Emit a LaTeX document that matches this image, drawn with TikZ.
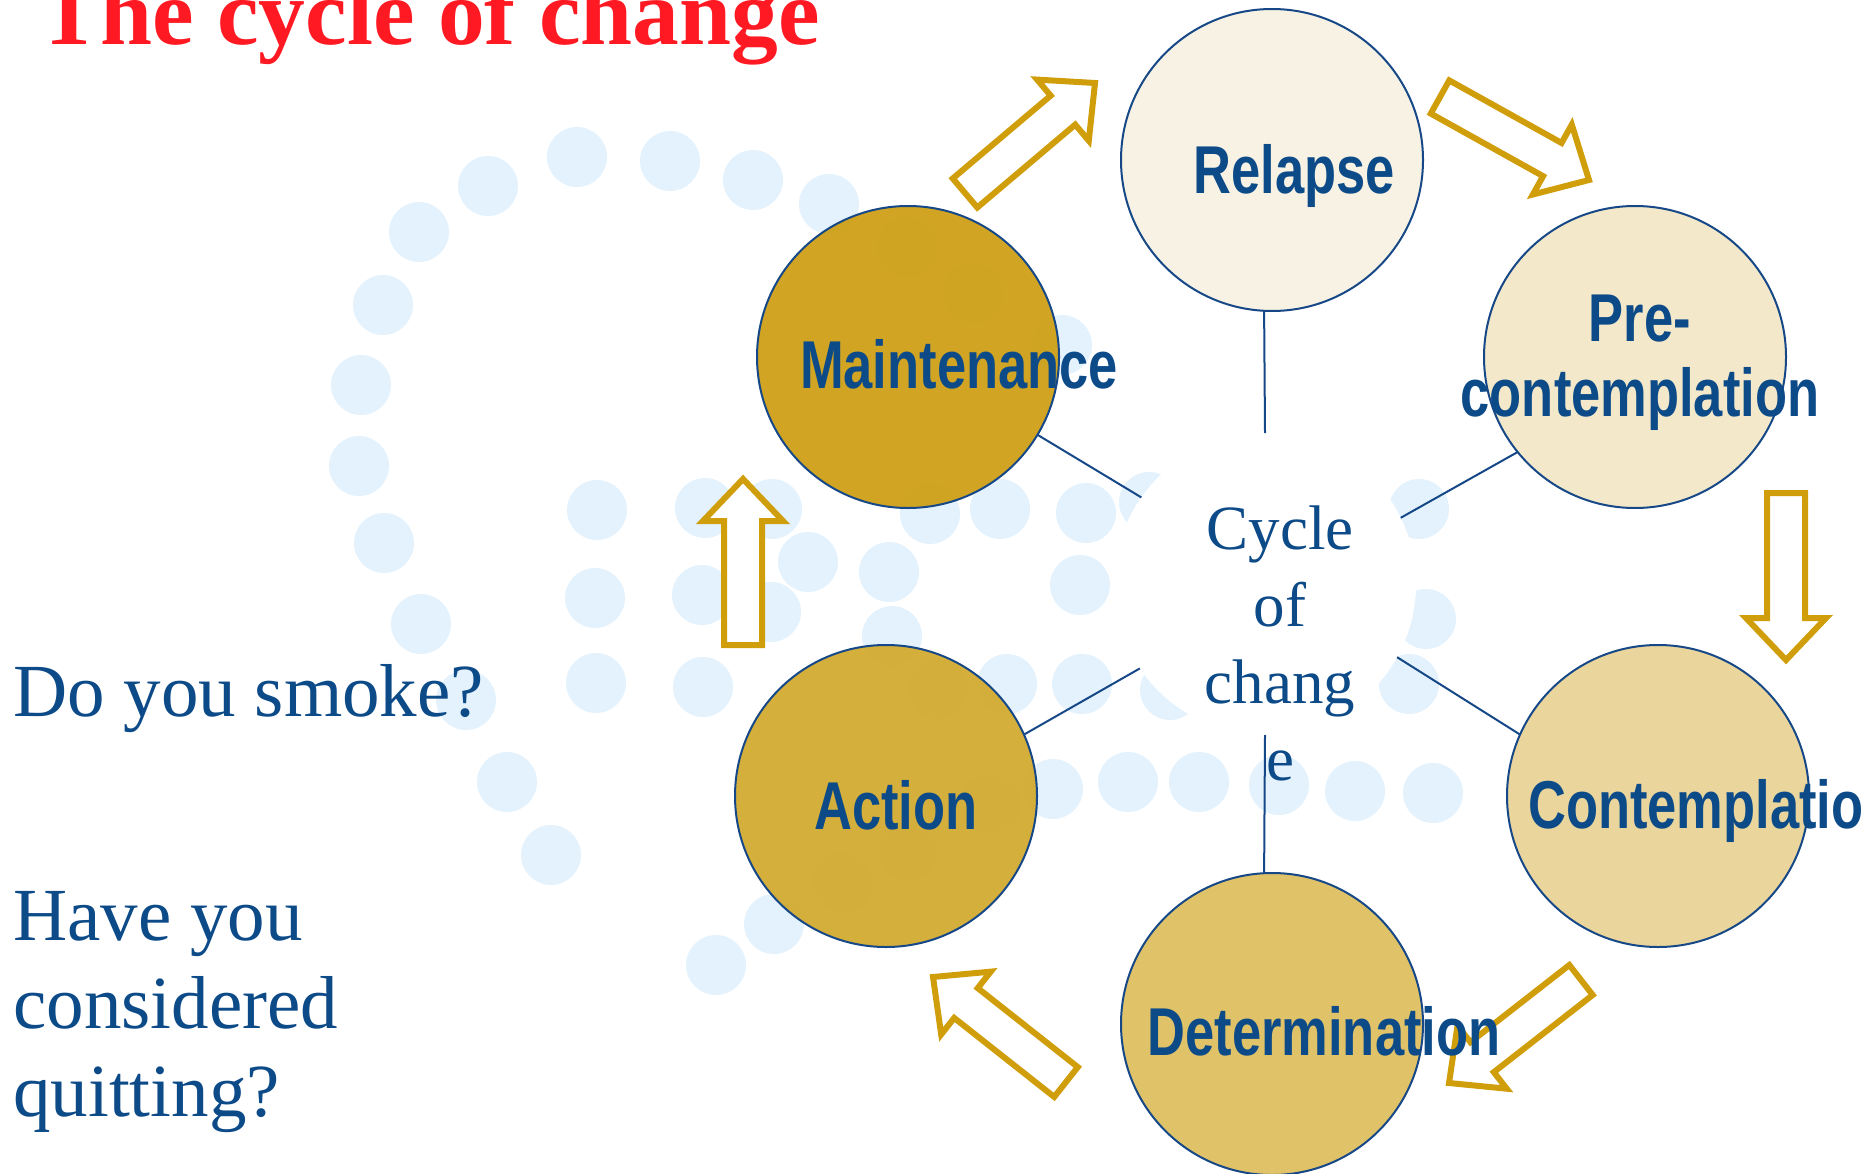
\documentclass[tikz,border=0pt]{standalone}
\usepackage{fontspec}
\setmainfont{Liberation Serif}
\newfontfamily\lblfont[FakeStretch=0.775]{Liberation Sans}
\usetikzlibrary{calc}
\pgfdeclarelayer{bg}
\pgfdeclarelayer{mid}
\pgfsetlayers{bg,mid,main}
\definecolor{txtblue}{RGB}{12,74,136}
\definecolor{lineblue}{RGB}{22,72,135}
\definecolor{gold}{RGB}{208,158,10}
\definecolor{titlered}{RGB}{255,25,35}
\definecolor{dotblue}{RGB}{228,242,253}
\definecolor{fillrelapse}{RGB}{248,242,228}
\definecolor{fillpre}{RGB}{243,232,200}
\definecolor{fillcontemp}{RGB}{233,213,154}
\definecolor{filldeterm}{RGB}{223,192,100}
\definecolor{fillaction}{RGB}{212,172,53}
\definecolor{fillmaint}{RGB}{207,162,28}
\tikzset{
  stage/.style={circle, draw=lineblue, line width=2pt, minimum size=302pt, inner sep=0pt, outer sep=0pt, fill opacity=0.97},
  stagelabel/.style={font=\lblfont\bfseries\fontsize{67.7}{75}\selectfont, text=txtblue, inner sep=0pt, anchor=base, align=center},
  link/.style={draw=lineblue, line width=2pt},
  barrow/.style={draw=gold, line width=6pt, fill=white, line join=miter},
  seriftext/.style={font=\fontsize{75}{88}\selectfont, text=txtblue, inner sep=0pt, align=left},
}
\newcommand\blockarrow[2]{%
  \coordinate (#2-h) at ($(#2)!42pt!(#1)$);
  \draw[barrow] ($(#1)!19pt!90:(#2)$) -- ($(#2-h)!19pt!90:(#2)$) -- ($(#2-h)!40pt!90:(#2)$) -- (#2)
    -- ($(#2-h)!40pt!-90:(#2)$) -- ($(#2-h)!19pt!-90:(#2)$) -- ($(#1)!19pt!-90:(#2)$) -- cycle;}
\begin{document}
\begin{tikzpicture}[x=1pt,y=-1pt]
\useasboundingbox (0,0) rectangle (1862,1174);
% stages
\node[stage, fill=fillrelapse] (relapse) at (1272,160) {};
\node[stage, fill=fillpre] (pre) at (1635,357) {};
\node[stage, fill=fillcontemp] (contemp) at (1658,796) {};
\node[stage, fill=filldeterm] (determ) at (1272,1024) {};
\node[stage, fill=fillaction] (action) at (886,796) {};
\node[stage, fill=fillmaint] (maint) at (908,357) {};
% background dots and hub
\begin{pgfonlayer}{bg}
\foreach \x/\y in {577/157, 670/161, 753/180, 829/204, 488/186, 419/232, 383/305, 361/385, 359/466, 384/543, 421/624, 466/700, 507/782, 551/855,
  907/247, 973/293, 1062/345,
  597/510, 705/508, 772/509, 930/514, 1000/509, 1086/513, 1149/502, 1419/509,
  808/562, 889/572, 1080/585, 1426/619,
  595/598, 702/595, 771/612, 892/636,
  596/683, 703/687, 938/689, 1007/684, 1082/684, 1170/690, 1409/684,
  716/965, 774/924, 843/883, 908/850, 990/804, 1053/789, 1128/782, 1199/782, 1279/785, 1355/791, 1433/793}
  \fill[dotblue] (\x,\y) circle (30pt);
\node[circle, fill=white, minimum size=302pt, inner sep=0pt, outer sep=0pt] (hub) at (1265,584) {};
\end{pgfonlayer}
% connectors
\begin{pgfonlayer}{mid}
\draw[link] (hub.90) -- (relapse.267);
\draw[link] (hub.270) -- (determ.93);
\draw[link] (hub.145) -- (maint.-31);
\draw[link] (hub.26) -- (pre.219);
\draw[link] (hub.-29) -- (contemp.156);
\draw[link] (hub.214) -- (action.24);
\end{pgfonlayer}
% block arrows
\coordinate (a1s) at (965,193);  \coordinate (a1e) at (1095,83);
\coordinate (a2s) at (1440,97);  \coordinate (a2e) at (1589,180);
\coordinate (a3s) at (1786,493); \coordinate (a3e) at (1786,660);
\coordinate (a4s) at (1581,980); \coordinate (a4e) at (1449,1083);
\coordinate (a5s) at (1066,1082); \coordinate (a5e) at (933,977);
\coordinate (a6s) at (743,645);  \coordinate (a6e) at (743,479);
\blockarrow{a1s}{a1e}
\blockarrow{a2s}{a2e}
\blockarrow{a3s}{a3e}
\blockarrow{a4s}{a4e}
\blockarrow{a5s}{a5e}
\blockarrow{a6s}{a6e}
% stage labels
\node[stagelabel] (relapsetxt) at ($(relapse)+(22,34)$) {Relapse};
\node[stagelabel] (pretxt) at ($(pre)+(5,59)$) {Pre-\\contemplation};
\node[stagelabel, anchor=base west] (contemptxt) at ($(contemp)+(-130,32)$) {Contemplatio};
\node[stagelabel] (determtxt) at ($(determ)+(52,31)$) {Determination};
\node[stagelabel] (actiontxt) at ($(action)+(10,33)$) {Action};
\node[stagelabel] (mainttxt) at ($(maint)+(51,31)$) {Maintenance};
% hub text
\node[font=\fontsize{63}{76.7}\selectfont, text=txtblue, inner sep=0pt, align=center, anchor=base] (hubtxt) at (1280,780) {Cycle\\of\\chang\\e};
% title and questions
\node[font=\bfseries\fontsize{93.5}{100}\selectfont, text=titlered, inner sep=0pt, anchor=base west] (title) at (38,45) {The cycle of change};
\node[seriftext, anchor=base west] (q1) at (13,716) {Do you smoke?};
\node[seriftext, anchor=base west] (q2) at (13,1116) {Have you\\considered\\quitting?};
\end{tikzpicture}
\end{document}
